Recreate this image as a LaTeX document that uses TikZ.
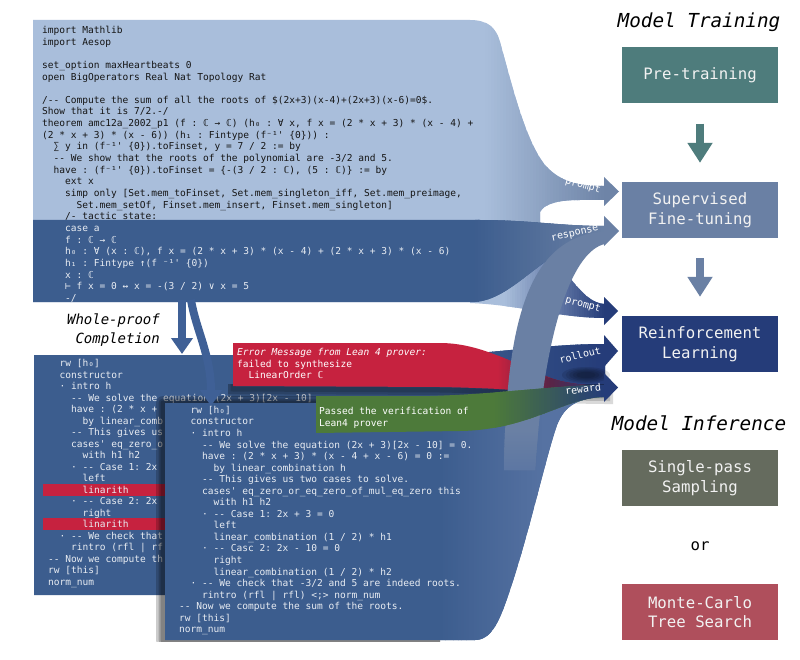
\documentclass[tikz,border=0pt]{standalone}
\usepackage{fontspec}
\setmonofont{DejaVu Sans Mono}[Ligatures=TeXOff, WordSpace={1,0,0}, ItalicFont={DejaVu Sans Mono Oblique}]
\usetikzlibrary{arrows.meta}
\definecolor{lightA}{HTML}{A9BEDB}
\definecolor{slateA}{HTML}{6E84A7}
\definecolor{panelB}{HTML}{3C5D8E}
\definecolor{slateB}{HTML}{6A80A4}
\definecolor{navy}{HTML}{253C79}
\definecolor{tealbox}{HTML}{4E7C7C}
\definecolor{olivebox}{HTML}{656B5E}
\definecolor{rosebox}{HTML}{AF4F5C}
\definecolor{crimson}{HTML}{C6223F}
\definecolor{maroon}{HTML}{5A2446}
\definecolor{greenbox}{HTML}{4D7A3A}
\definecolor{ptwolight}{HTML}{5672A2}
\definecolor{codewhite}{HTML}{E9EDF3}
\definecolor{codeblack}{HTML}{151515}
\definecolor{arrowblue}{HTML}{3F6096}
% horizontal gradient made of strips: x0 x1 y0 y1 leftcolor rightcolor
\newcommand\hgrad[6]{%
  \foreach \gi in {0,...,39}{%
    \pgfmathsetmacro\gxa{#1+(#2-#1)*\gi/40}%
    \pgfmathsetmacro\gxb{#1+(#2-#1)*(\gi+1)/40+0.6}%
    \pgfmathsetmacro\gpc{100-(\gi+0.5)*2.5}%
    \fill[#5!\gpc!#6] (\gxa,#3) rectangle (\gxb,#4);
  }%
  \fill[#6] (#2,#3) rectangle (#2+40,#4);%
}
% vertical gradient: x0 x1 y0(top) y1(bottom) topcolor bottomcolor
\newcommand\vgrad[6]{%
  \foreach \gi in {0,...,39}{%
    \pgfmathsetmacro\gya{#3+(#4-#3)*\gi/40}%
    \pgfmathsetmacro\gyb{#3+(#4-#3)*(\gi+1)/40+0.6}%
    \pgfmathsetmacro\gpc{100-(\gi+0.5)*2.5}%
    \fill[#5!\gpc!#6] (#1,\gya) rectangle (#2,\gyb);
  }%
  \fill[#6] (#1,#4) rectangle (#2,#4+200);%
}
\def\pathA{(33,20) -- (470,20) .. controls (488,20) and (496,28) .. (500,42) .. controls (512,85) and (525,140) .. (545,165) .. controls (560,182) and (578,186) .. (605,186) -- (605,200) -- (580,200) .. controls (560,200) and (545,203) .. (540,212) -- (540,250) -- (480,302) -- (33,302) -- cycle}
\def\pathLP{(470,240) -- (520,240) .. controls (560,245) and (575,303) .. (605,304) -- (605,318) .. controls (560,318) and (520,305) .. (470,303) -- cycle}
\def\pathB{(33,220) -- (480,220) .. controls (530,220) and (560,226) .. (605,226) -- (605,242) .. controls (580,244) and (560,252) .. (545,262) .. controls (520,280) and (500,300) .. (475,302) -- (33,302) -- cycle}
\def\pathSB{(504,470) .. controls (506,330) and (525,240) .. (600,232) -- (605,232) -- (605,244) .. controls (575,250) and (545,320) .. (535,470) -- cycle}
\def\pathPone{(34,355) -- (430,355) .. controls (490,355) and (540,344) .. (605,344) -- (605,390) -- (552,395) -- (540,412) -- (300,412) -- (300,595) -- (34,595) -- cycle}
\def\pathRB{(233,343) -- (440,343) .. controls (490,343) and (530,375) .. (565,382) .. controls (580,385) and (595,386) .. (605,386) -- (605,393) .. controls (560,393) and (500,388) .. (440,387) -- (233,386) -- cycle}
\def\pathGB{(316,396) -- (430,396) .. controls (500,394) and (560,385) .. (605,385) -- (605,397) .. controls (565,397) and (530,430) .. (460,431) -- (316,433) -- cycle}
\def\pathPtwo{(165,403) -- (520,403) .. controls (555,403) and (575,392) .. (605,391) -- (605,397) .. controls (578,398) and (565,405) .. (557,425) .. controls (545,460) and (530,530) .. (510,590) .. controls (500,620) and (492,640) .. (475,640) -- (165,640) -- cycle}
\begin{document}
\frenchspacing
\begin{tikzpicture}[x=1pt,y=-1pt,
  code/.style={font=\ttfamily\fontsize{9.55}{11.65}\selectfont, align=left, inner sep=0pt, anchor=north west},
  box/.style={minimum width=156pt, minimum height=56pt, inner sep=0pt, text=white!95!black, font=\ttfamily\fontsize{15.7}{19.5}\selectfont, align=center},
  heading/.style={font=\ttfamily\itshape\fontsize{19.3}{23}\selectfont, text=black, inner sep=0pt},
  flowlabel/.style={font=\ttfamily\fontsize{10}{12}\selectfont, text=white, inner sep=0pt},
  stagearrow/.style={line width=8.5pt, -{Triangle[width=24pt,length=20pt]}, shorten <=20pt, shorten >=19pt},
  downarrow/.style={arrowblue, line width=8pt, -{Triangle[width=21pt,length=16pt]}},
]
\fill[white] (0,0) rectangle (800,660);
\useasboundingbox (0,0) rectangle (800,660);

% light prompt panel
\fill[lightA, path picture={\hgrad{485}{604}{10}{330}{lightA}{slateA}}] \pathA;
\node[code, text=codeblack] (atext) at (42,25.05) {\strut import Mathlib\\
import Aesop\\
~\\
set\_option maxHeartbeats 0\\
open BigOperators Real Nat Topology Rat\\
~\\
/-- Compute the sum of all the roots of \$(2x+3)(x-4)+(2x+3)(x-6)=0\$.\\
Show that it is 7/2.-/\\
theorem amc12a\_2002\_p1 (f : ℂ → ℂ) (h₀ : ∀ x, f x = (2 * x + 3) * (x - 4) +\\
(2 * x + 3) * (x - 6)) (h₁ : Fintype (f⁻¹' \{0\})) :\\
~~∑ y in (f⁻¹' \{0\}).toFinset, y = 7 / 2 := by\\
~~-- We show that the roots of the polynomial are -3/2 and 5.\\
~~have : (f⁻¹' \{0\}).toFinset = \{-(3 / 2 : ℂ), (5 : ℂ)\} := by\\
~~~~ext x\\
~~~~simp only [Set.mem\_toFinset, Set.mem\_singleton\_iff, Set.mem\_preimage,\\
~~~~~~Set.mem\_setOf, Finset.mem\_insert, Finset.mem\_singleton]\\
~~~~/- tactic state:};

% lower prompt flow
\fill[lightA, path picture={\hgrad{505}{604}{230}{330}{lightA}{navy}}] \pathLP;

% dark tactic-state panel with response flow
\fill[panelB, path picture={\hgrad{475}{604}{210}{310}{panelB}{slateB}}] \pathB;
\node[code, text=codewhite] (btext) at (42,223.1) {\strut ~~~~case a\\
~~~~f : ℂ → ℂ\\
~~~~h₀ : ∀ (x : ℂ), f x = (2 * x + 3) * (x - 4) + (2 * x + 3) * (x - 6)\\
~~~~h₁ : Fintype ↑(f ⁻¹' \{0\})\\
~~~~x : ℂ\\
~~~~⊢ f x = 0 ↔ x = -(3 / 2) ∨ x = 5\\
~~~~-/};

\node[font=\ttfamily\itshape\fontsize{14}{19}\selectfont, align=right, anchor=east, inner sep=0pt] (wpc) at (160,330) {Whole-proof\\Completion};

% first completion panel with rollout flow
\fill[panelB, path picture={\hgrad{450}{604}{330}{420}{panelB}{navy}}] \pathPone;
\fill[crimson] (43,483.5) rectangle (300,495.5);
\fill[crimson] (43,518) rectangle (300,530);
\node[code, text=codewhite, font=\ttfamily\fontsize{9.55}{11.5}\selectfont] (p1text) at (48,358.25) {\strut ~~rw [h₀]\\
~~constructor\\
~~· intro h\\
~~~~-- We solve the equation (2x + 3)[2x - 10]\\
~~~~have : (2 * x +\\
~~~~~~by linear\_comb\\
~~~~-- This gives us\\
~~~~cases' eq\_zero\_o\\
~~~~~~with h1 h2\\
~~~~· -- Case 1: 2x\\
~~~~~~left\\
~~~~~~linarith\\
~~~~· -- Case 2: 2x\\
~~~~~~right\\
~~~~~~linarith\\
~~· -- We check that\\
~~~~rintro (rfl | rf\\
-- Now we compute th\\
rw [this]\\
norm\_num};

\coordinate (sfrom) at (182,300);
\coordinate (sto) at (182,354);
\draw[downarrow] (sfrom) -- (sto);

% error message flow
\begin{scope}
\clip (228,384) rectangle (620,405);
\foreach \w in {16,10,5} {\draw[black, opacity=0.15, line width=\w pt, shift={(0,3)}] \pathRB;}
\end{scope}
\fill[crimson, path picture={\hgrad{498}{550}{330}{400}{crimson}{maroon}\hgrad{550}{604}{330}{400}{maroon}{navy}}] \pathRB;
\node[code, text=white, font=\ttfamily\fontsize{9.55}{11.5}\selectfont] (rtext) at (237,347.65) {\strut\textit{Error Message from Lean 4 prover:}\\
failed to synthesize\\
~~LinearOrder ℂ};

% second completion panel
\begin{scope}
\clip (0,385) rectangle (440,641);
\foreach \w in {14,9,5} {\draw[black, opacity=0.2, line width=\w pt, line join=round, shift={(-2,0)}] \pathPtwo;}
\end{scope}
\fill[panelB, path picture={\hgrad{440}{545}{390}{650}{panelB}{ptwolight}}] \pathPtwo;
\node[code, text=codewhite, font=\ttfamily\fontsize{9.55}{11.55}\selectfont] (p2text) at (179,405.1) {\strut ~~rw [h₀]\\
~~constructor\\
~~· intro h\\
~~~~-- We solve the equation (2x + 3)[2x - 10] = 0.\\
~~~~have : (2 * x + 3) * (x - 4 + x - 6) = 0 :=\\
~~~~~~by linear\_combination h\\
~~~~-- This gives us two cases to solve.\\
~~~~cases' eq\_zero\_or\_eq\_zero\_of\_mul\_eq\_zero this\\
~~~~~~with h1 h2\\
~~~~· -- Case 1: 2x + 3 = 0\\
~~~~~~left\\
~~~~~~linear\_combination (1 / 2) * h1\\
~~~~· -- Casc 2: 2x - 10 = 0\\
~~~~~~right\\
~~~~~~linear\_combination (1 / 2) * h2\\
~~· -- We check that -3/2 and 5 are indeed roots.\\
~~~~rintro (rfl | rfl) <;> norm\_num\\
-- Now we compute the sum of the roots.\\
rw [this]\\
norm\_num};

% response flow from the verified proof
\fill[slateB, path picture={\vgrad{490}{560}{430}{490}{slateB}{ptwolight}}] \pathSB;

% verification flow
\fill[greenbox, path picture={\hgrad{495}{604}{380}{440}{greenbox}{navy}}] \pathGB;
\node[code, text=white, font=\ttfamily\fontsize{9.55}{11.6}\selectfont] (gtext) at (319,406.4) {\strut Passed the verification of\\
Lean4 prover};

% soft shadow between rollout and reward
\foreach \r in {1,0.85,0.7,0.55,0.4} {\fill[black, opacity=0.1] (586,375) ellipse ({24*\r} and {8*\r});}

\coordinate (cfrom) at (191,300);
\coordinate (cto) at (211,406);
\draw[downarrow] (cfrom) .. controls (196,330) and (211,355) .. (cto);

% arrow heads of the flows
\fill[slateA] (604,177) -- (619,191.5) -- (604,206) -- cycle;
\fill[slateB] (604,216) -- (619,231) -- (604,246) -- cycle;
\fill[navy] (604,297) -- (618,311) -- (604,325) -- cycle;
\fill[navy] (604,335) -- (618,351) -- (604,367) -- cycle;
\fill[navy] (604,373) -- (618,387.5) -- (604,402) -- cycle;

\node[flowlabel, rotate=-15] (lp1) at (583,186) {prompt};
\node[flowlabel, rotate=13] (lr) at (575,234) {response};
\node[flowlabel, rotate=-15] (lp2) at (583,305) {prompt};
\node[flowlabel, rotate=14] (lro) at (580,355) {rollout};
\node[flowlabel, rotate=7] (lrw) at (583,389) {reward};

% right column
\node[heading] (mtrain) at (699,22) {Model Training};
\node[box, fill=tealbox] (pre) at (700,75.5) {Pre-training};
\node[box, fill=slateB] (sft) at (700,210) {Supervised\\Fine-tuning};
\node[box, fill=navy] (rl) at (700,344) {Reinforcement\\Learning};
\draw[stagearrow, tealbox] (pre.south) -- (sft.north);
\draw[stagearrow, slateB] (sft.south) -- (rl.north);
\node[heading] (minf) at (699,423) {Model Inference};
\node[box, fill=olivebox] (sps) at (700,478) {Single-pass\\Sampling};
\node[font=\ttfamily\fontsize{15.7}{19}\selectfont, inner sep=0pt] (or) at (700,546) {or};
\node[box, fill=rosebox] (mcts) at (700,612) {Monte-Carlo\\Tree Search};
\end{tikzpicture}
\end{document}
